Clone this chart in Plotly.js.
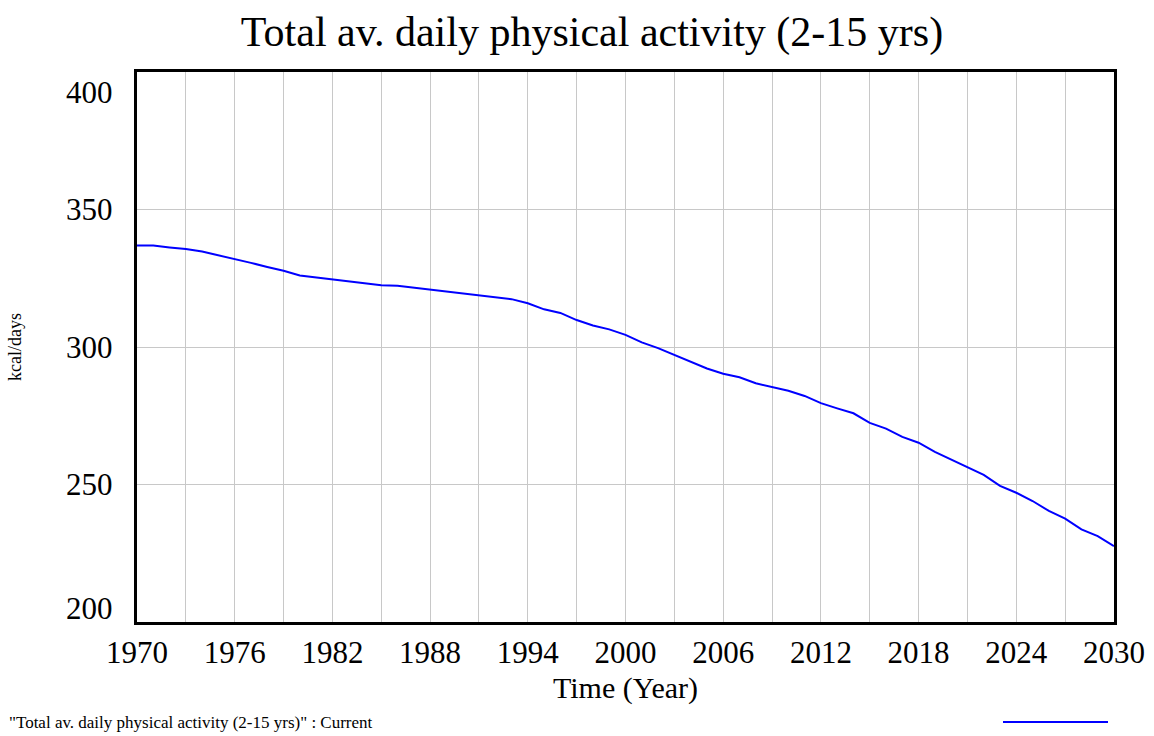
<!DOCTYPE html>
<html>
<head>
<meta charset="utf-8">
<script src="https://cdn.plot.ly/plotly-3.0.1.min.js"></script>
<style>html,body{margin:0;padding:0;background:#fff;}#chart{width:1154px;height:736px;}</style>
</head>
<body>
<div id="chart"></div>
<script>
const years = [1970,1971,1972,1973,1974,1975,1976,1977,1978,1979,1980,1981,1982,1983,1984,1985,1986,1987,1988,1989,1990,
  1991,1992,1993,1994,1995,1996,1997,1998,1999,2000,2001,2002,2003,2004,2005,2006,2007,2008,2009,2010,
  2011,2012,2013,2014,2015,2016,2017,2018,2019,2020,2021,2022,2023,2024,2025,2026,2027,2028,2029,2030];
const activity = [336.9,336.9,336.2,335.6,334.7,333.4,332.0,330.6,329.1,327.7,326.0,325.3,324.6,323.9,323.2,322.5,322.3,321.6,320.9,320.2,319.5,
  318.8,318.1,317.4,315.9,313.7,312.4,309.8,307.8,306.4,304.4,301.7,299.6,297.1,294.7,292.2,290.3,289.0,286.8,285.4,284.1,
  282.2,279.6,277.7,275.9,272.4,270.3,267.3,265.2,261.9,259.1,256.4,253.5,249.5,247.0,244.0,240.4,237.6,233.7,231.2,227.6];
const yTicks = [200,250,300,350,400];
const yTickShift = [14,0,0,0,-20];
const xTicks = [1970,1976,1982,1988,1994,2000,2006,2012,2018,2024,2030];
const chartTitle = "Total av. daily physical activity (2-15 yrs)";
const seriesName = "\"Total av. daily physical activity (2-15 yrs)\" : Current";

const FONT = "Liberation Serif, Times New Roman, serif";

const annotations = yTicks.map((v,i)=>({
  xref:'paper', yref:'y', x:0, y:v, xanchor:'right', yanchor:'middle',
  xshift:-22, yshift:yTickShift[i], text:String(v), showarrow:false,
  font:{family:FONT,size:31,color:'#000'}
}));
annotations.push({
  xref:'paper', yref:'paper', x:-137/977, y:-(722-622)/550, xanchor:'left', yanchor:'middle',
  xshift:7, text:seriesName, showarrow:false, font:{family:FONT,size:17,color:'#000'}
});

const trace = {
  x: years, y: activity, type:'scatter', mode:'lines',
  line:{color:'#0000ff', width:2}, name: seriesName, showlegend:false
};

const layout = {
  width:1154, height:736,
  margin:{l:137, r:40, t:72, b:114},
  paper_bgcolor:'#fff', plot_bgcolor:'#fff',
  font:{family:FONT, color:'#000'},
  title:{text:chartTitle, font:{family:FONT,size:42,color:'#000'}, x:592/1154, xanchor:'center', xref:'container',
         y:1-31/736, yref:'container', yanchor:'middle'},
  xaxis:{
    range:[1970,2030], tickvals:xTicks, ticktext:xTicks.map(String),
    tickfont:{family:FONT,size:31,color:'#000'}, ticks:'', ticklabelstandoff:1,
    showgrid:true, gridcolor:'#c8c8c8', gridwidth:1,
    minor:{dtick:3, tick0:1970, showgrid:true, gridcolor:'#c8c8c8', gridwidth:1},
    showline:true, linecolor:'#000', linewidth:3, mirror:true, zeroline:false,
    title:{text:'Time (Year)', font:{family:FONT,size:30,color:'#000'}, standoff:8}
  },
  yaxis:{
    range:[200,400], tickvals:yTicks, showticklabels:false, ticks:'',
    showgrid:true, gridcolor:'#c8c8c8', gridwidth:1,
    showline:true, linecolor:'#000', linewidth:3, mirror:true, zeroline:false,
    title:{text:'kcal/days', font:{family:FONT,size:18,color:'#000'}, standoff:108}
  },
  annotations: annotations,
  shapes:[{type:'line', xref:'paper', yref:'paper', x0:(1003-137)/977, x1:(1108-137)/977,
           y0:-(722-622)/550, y1:-(722-622)/550, line:{color:'#0000ff', width:2}}]
};

Plotly.newPlot('chart',[trace],layout,{displayModeBar:false, staticPlot:true});
</script>
</body>
</html>
